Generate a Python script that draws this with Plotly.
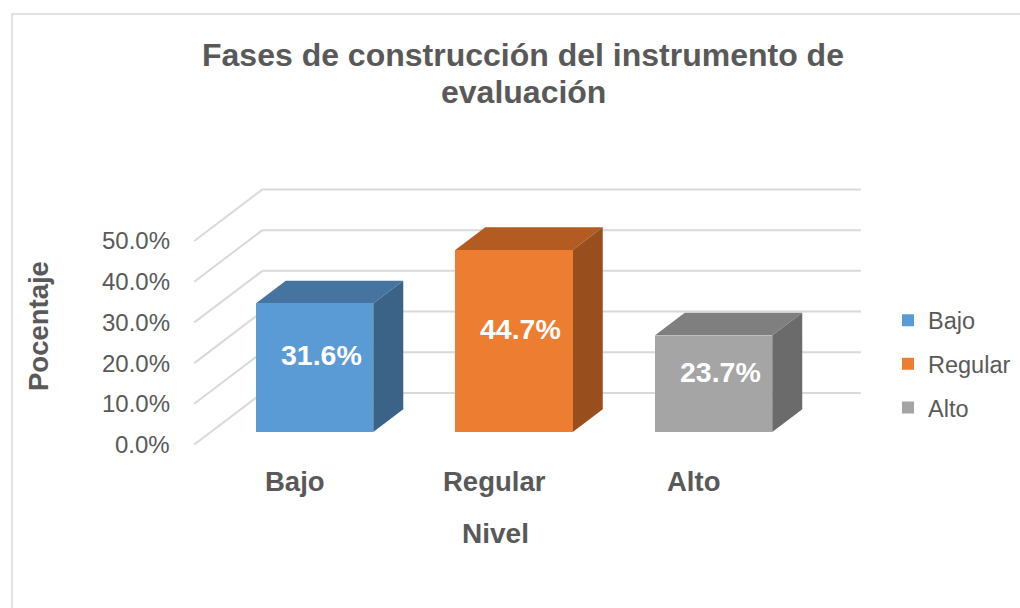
import plotly.graph_objects as go

# ---------------- data ----------------
categories = ["Bajo", "Regular", "Alto"]
values = [31.6, 44.7, 23.7]
tick_values = [0, 10, 20, 30, 40, 50]
tick_labels = ["0.0%", "10.0%", "20.0%", "30.0%", "40.0%", "50.0%"]
title_lines = ["Fases de construcción del instrumento de", "evaluación"]
x_title = "Nivel"
y_title = "Pocentaje"

# ---------------- style ----------------
front_colors = ["#5B9BD5", "#ED7D31", "#A5A5A5"]
top_colors = ["#44749F", "#B35B20", "#7F7F7F"]
side_colors = ["#3A6387", "#984E1D", "#6B6B6B"]
text_color = "#595959"
grid_color = "#D9D9D9"
FONT = "Liberation Sans, Arial, sans-serif"

W, H = 1020, 608
BAR_W = 0.589
DX, DY = 0.1504, 5.58          # depth vector of a bar (x in category units, y in %)
FLOOR_FRONT, WALL = -0.55, 1.72  # floor front edge / back wall, in bar depths
X_LEFT, X_RIGHT = -0.52, 2.48    # floor extent in the bar front plane

# axis ranges so that 1 category = 199.5 px and 1 % = 4.07 px
PX_CAT, PX_PCT = 199.5, 4.07
x0 = -314.5 / PX_CAT
y0 = -(H - 432) / PX_PCT
x_range = [x0, x0 + W / PX_CAT]
y_range = [y0, y0 + H / PX_PCT]

fig = go.Figure()
shapes = []

# gridlines: back wall + left wall diagonals
for v in tick_values:
    yb = v + WALL * DY
    shapes.append(dict(type="line", xref="x", yref="y", layer="below",
                       x0=X_LEFT + WALL * DX, y0=yb, x1=X_RIGHT + WALL * DX, y1=yb,
                       line=dict(color=grid_color, width=2)))
    shapes.append(dict(type="line", xref="x", yref="y", layer="below",
                       x0=X_LEFT + FLOOR_FRONT * DX, y0=v + FLOOR_FRONT * DY,
                       x1=X_LEFT + WALL * DX, y1=yb,
                       line=dict(color=grid_color, width=2)))

# 3D faces of the bars
for i, v in enumerate(values):
    l, r = i - BAR_W / 2, i + BAR_W / 2
    top = f"M {l},{v} L {r},{v} L {r + DX},{v + DY} L {l + DX},{v + DY} Z"
    side = f"M {r},0 L {r},{v} L {r + DX},{v + DY} L {r + DX},{DY} Z"
    shapes.append(dict(type="path", xref="x", yref="y", layer="below", path=top,
                       fillcolor=top_colors[i], line=dict(width=0)))
    shapes.append(dict(type="path", xref="x", yref="y", layer="below", path=side,
                       fillcolor=side_colors[i], line=dict(width=0)))

# chart border
shapes.append(dict(type="rect", xref="paper", yref="paper",
                   x0=12 / W, x1=1.02, y0=-0.02, y1=1 - 14 / H,
                   line=dict(color=grid_color, width=1.5), layer="below"))

# front faces as real bars
for i, (c, v) in enumerate(zip(categories, values)):
    fig.add_trace(go.Bar(x=[i], y=[v], width=BAR_W, name=c, legendgroup=c,
                         marker=dict(color=front_colors[i], line=dict(width=0)),
                         hoverinfo="name+y"))

annotations = []
C = dict(xanchor="center", yanchor="middle", showarrow=False)
# value labels
for i, v in enumerate(values):
    annotations.append(dict(x=i + 0.035, y=v / 2 + 3, xref="x", yref="y",
                            text=f"{v:.1f}%", **C,
                            font=dict(family=FONT, size=28.5, color="white", weight="bold")))
# y tick labels at the floor's front edge
for v, t in zip(tick_values, tick_labels):
    annotations.append(dict(x=X_LEFT + FLOOR_FRONT * DX - 0.11, y=v + FLOOR_FRONT * DY,
                            xref="x", yref="y", xanchor="right", yanchor="middle",
                            text=t, showarrow=False,
                            font=dict(family=FONT, size=24, color=text_color)))
# category labels
for i, c in enumerate(categories):
    annotations.append(dict(x=i - 0.1, y=(432 - 481) / PX_PCT, xref="x", yref="y",
                            text=c, **C,
                            font=dict(family=FONT, size=27.5, color=text_color, weight="bold")))
# axis titles
annotations.append(dict(x=495 / W, y=1 - 533 / H, xref="paper", yref="paper",
                        text=x_title, **C,
                        font=dict(family=FONT, size=28, color=text_color, weight="bold")))
annotations.append(dict(x=38 / W, y=1 - 326 / H, xref="paper", yref="paper",
                        text=y_title, textangle=-90, **C,
                        font=dict(family=FONT, size=27.5, color=text_color, weight="bold")))
# chart title
for ln, yy in zip(title_lines, [55, 92]):
    annotations.append(dict(x=523 / W, y=1 - yy / H, xref="paper", yref="paper",
                            text=ln, **C,
                            font=dict(family=FONT, size=32, color=text_color, weight="bold")))

fig.update_layout(
    width=W, height=H, autosize=False,
    margin=dict(l=0, r=0, t=0, b=0),
    paper_bgcolor="white", plot_bgcolor="white",
    xaxis=dict(range=x_range, visible=False, fixedrange=True),
    yaxis=dict(range=y_range, visible=False, fixedrange=True),
    shapes=shapes, annotations=annotations,
    showlegend=True,
    legend=dict(x=888 / W, y=1 - 364 / H, xanchor="left", yanchor="middle",
                font=dict(family=FONT, size=23.5, color=text_color),
                traceorder="grouped", tracegroupgap=10, itemwidth=30,
                bgcolor="rgba(0,0,0,0)"),
    bargap=0,
)

fig.write_html("out.html", config={"displayModeBar": False},
               post_script="document.body.style.margin='0';document.body.style.overflow='hidden';")
